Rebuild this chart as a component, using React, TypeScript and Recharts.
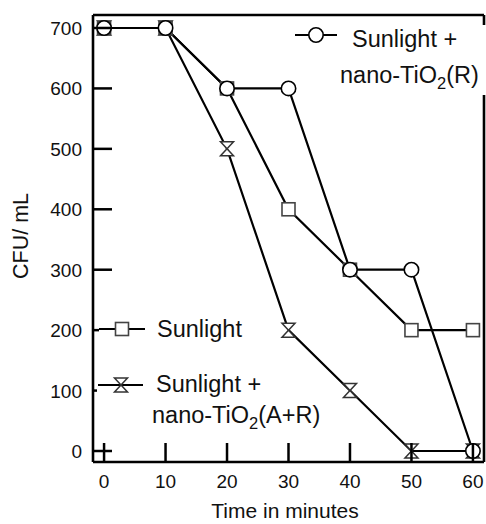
import { LineChart, Line, XAxis, YAxis, ReferenceLine } from "recharts";

// time points (minutes)
const TIME = [0, 10, 20, 30, 40, 50, 60];
// CFU/mL per series
const SUN_TIO2_R = [700, 700, 600, 600, 300, 300, 0];
const SUNLIGHT = [700, 700, 600, 400, 300, 200, 200];
const SUN_TIO2_AR = [700, 700, 500, 200, 100, 0, 0];

const X_TICKS = [0, 10, 20, 30, 40, 50, 60];
const Y_TICKS = [0, 100, 200, 300, 400, 500, 600, 700];
const X_DOMAIN: [number, number] = [-1.8, 61.8];
const Y_DOMAIN: [number, number] = [-18.2, 721.5];

const FONT = "'Liberation Sans', Arial, Helvetica, sans-serif";
const INK = "#111";

const data = TIME.map((t, i) => ({
  t,
  r: SUN_TIO2_R[i],
  s: SUNLIGHT[i],
  ar: SUN_TIO2_AR[i],
}));

function CircleMark({ cx, cy }: { cx: number; cy: number }) {
  return <circle cx={cx} cy={cy} r={7.2} fill="#fff" stroke="#000" strokeWidth={1.6} />;
}

function SquareMark({ cx, cy }: { cx: number; cy: number }) {
  return <rect x={cx - 6.5} y={cy - 6.5} width={13} height={13} fill="#fff" stroke="#444" strokeWidth={1.6} />;
}

function HourglassMark({ cx, cy }: { cx: number; cy: number }) {
  const w = 6.5;
  const h = 7;
  return (
    <path
      d={`M${cx - w},${cy - h} L${cx + w},${cy - h} L${cx - w},${cy + h} L${cx + w},${cy + h} Z`}
      fill="#fff"
      stroke="#333"
      strokeWidth={1.5}
    />
  );
}

function XTick(props: any) {
  const { x, y, payload } = props;
  return (
    <g>
      <line x1={x} y1={y} x2={x} y2={y - 19} stroke="#000" strokeWidth={2.5} />
      <text x={x} y={y + 26} textAnchor="middle" fontSize={19} fontFamily={FONT} fill={INK}>
        {payload.value}
      </text>
    </g>
  );
}

function YTick(props: any) {
  const { x, y, payload } = props;
  return (
    <g>
      <line x1={x} y1={y} x2={x + 19} y2={y} stroke="#000" strokeWidth={2.5} />
      <text x={x - 11} y={y + 7} textAnchor="end" fontSize={19} fontFamily={FONT} fill={INK}>
        {payload.value}
      </text>
    </g>
  );
}

function Overlay() {
  const txt = { fontSize: 23.5, fontFamily: FONT, fill: INK };
  return (
    <svg
      width={486}
      height={524}
      style={{ position: "absolute", left: 0, top: 0, pointerEvents: "none" }}
    >
      {/* legend: Sunlight + nano-TiO2(R) */}
      <rect x={300} y={25} width={186} height={70} fill="#fff" />
      <line x1={295} y1={35} x2={337} y2={35} stroke="#000" strokeWidth={2.2} />
      <CircleMark cx={316} cy={35} />
      <text x={352} y={47} {...txt}>Sunlight +</text>
      <text x={340} y={83} {...txt}>
        nano-TiO<tspan fontSize={16.5} dy={6}>2</tspan>
        <tspan dy={-6}>(R)</tspan>
      </text>

      {/* legend: Sunlight */}
      <rect x={99} y={316} width={100} height={26} fill="#fff" />
      <line x1={99} y1={329} x2={145} y2={329} stroke="#000" strokeWidth={2.2} />
      <SquareMark cx={122} cy={329} />
      <text x={157} y={337} {...txt}>Sunlight</text>

      {/* legend: Sunlight + nano-TiO2(A+R) */}
      <rect x={97} y={372} width={230} height={58} fill="#fff" />
      <line x1={98} y1={385} x2={143} y2={385} stroke="#000" strokeWidth={2.2} />
      <HourglassMark cx={121} cy={385} />
      <text x={156} y={392} {...txt}>Sunlight +</text>
      <text x={152} y={423} {...txt}>
        nano-TiO<tspan fontSize={16.5} dy={6}>2</tspan>
        <tspan dy={-6}>(A+R)</tspan>
      </text>

      {/* axis titles */}
      <text x={285} y={518} textAnchor="middle" fontSize={21} fontFamily={FONT} fill={INK}>
        Time in minutes
      </text>
      <text
        x={28}
        y={236}
        textAnchor="middle"
        fontSize={21.5}
        fontFamily={FONT}
        fill={INK}
        transform="rotate(-90, 28, 236)"
      >
        CFU/ mL
      </text>
    </svg>
  );
}

export default function App() {
  return (
    <div style={{ position: "absolute", left: 0, top: 0, width: 486, height: 524, background: "#fff" }}>
      <LineChart width={486} height={524} data={data} margin={{ top: 15, right: 2, bottom: 0, left: 0 }}>
        <XAxis
          dataKey="t"
          type="number"
          domain={X_DOMAIN}
          ticks={X_TICKS}
          interval={0}
          allowDataOverflow
          height={62}
          tickSize={0}
          tickMargin={0}
          tickLine={false}
          axisLine={{ stroke: "#000", strokeWidth: 2.6 }}
          tick={XTick}
        />
        <YAxis
          type="number"
          domain={Y_DOMAIN}
          ticks={Y_TICKS}
          interval={0}
          allowDataOverflow
          width={93}
          tickSize={0}
          tickMargin={0}
          tickLine={false}
          axisLine={{ stroke: "#000", strokeWidth: 2.6 }}
          tick={YTick}
        />
        <ReferenceLine y={Y_DOMAIN[1]} stroke="#000" strokeWidth={2.6} />
        <ReferenceLine x={X_DOMAIN[1]} stroke="#000" strokeWidth={2.6} />
        <Line
          dataKey="ar"
          stroke="#000"
          strokeWidth={2.2}
          isAnimationActive={false}
          dot={(p: any) => <HourglassMark key={`ar-${p.index}`} cx={p.cx} cy={p.cy} />}
        />
        <Line
          dataKey="s"
          stroke="#000"
          strokeWidth={2.2}
          isAnimationActive={false}
          dot={(p: any) => <SquareMark key={`s-${p.index}`} cx={p.cx} cy={p.cy} />}
        />
        <Line
          dataKey="r"
          stroke="#000"
          strokeWidth={2.2}
          isAnimationActive={false}
          dot={(p: any) => <CircleMark key={`r-${p.index}`} cx={p.cx} cy={p.cy} />}
        />
      </LineChart>
      <Overlay />
    </div>
  );
}
